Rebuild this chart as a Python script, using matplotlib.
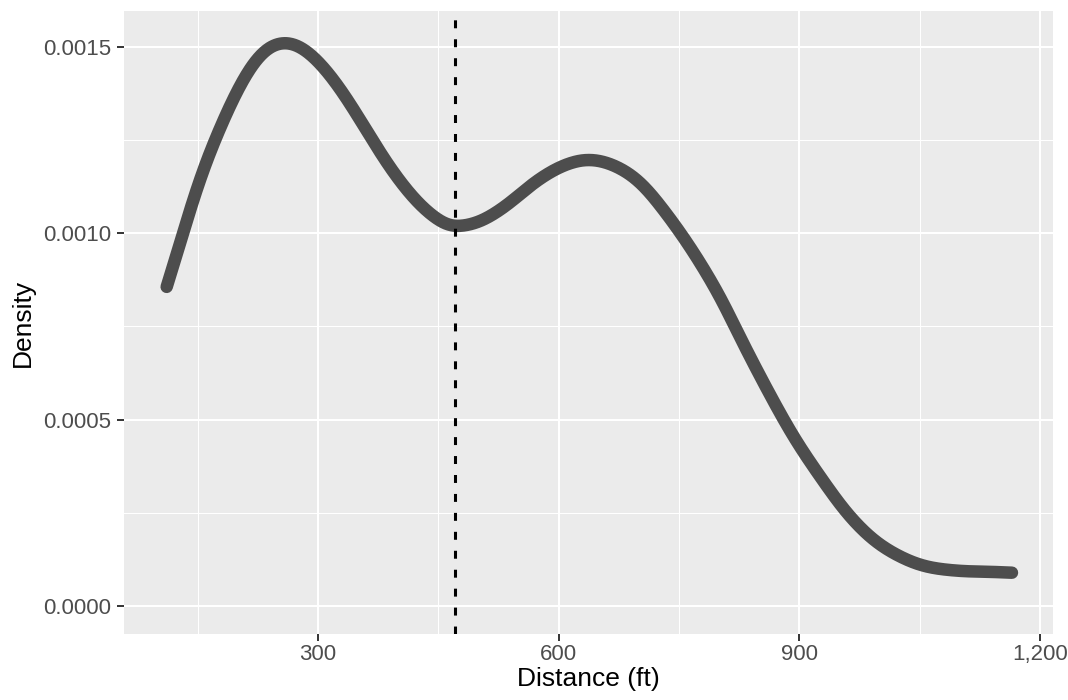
import numpy as np
import matplotlib.pyplot as plt
from matplotlib.ticker import FuncFormatter

plt.rcParams['font.family'] = ['Liberation Sans', 'DejaVu Sans']

# density curve
distance = [111.4, 128.0, 142.6, 157.1, 173.8, 194.5, 215.3, 236.1, 258.9,
            281.7, 306.7, 331.6, 356.5, 381.4, 406.4, 431.3, 456.2, 470.8,
            502.0, 535.3, 568.4, 601.7, 635.0, 668.2, 701.4, 734.7, 767.9,
            801.2, 826.1, 859.4, 892.6, 925.8, 959.1, 992.3, 1025.6, 1058.8,
            1100.4, 1133.6, 1164.8]
density = [0.000856, 0.000973, 0.001078, 0.001172, 0.001262, 0.001362,
           0.001444, 0.001496, 0.001513, 0.001496, 0.001446, 0.001375,
           0.001290, 0.001203, 0.001127, 0.001067, 0.001026, 0.001017,
           0.001031, 0.001075, 0.001134, 0.001178, 0.001198, 0.001183,
           0.001137, 0.001051, 0.000949, 0.000829, 0.000720, 0.000582,
           0.000454, 0.000347, 0.000249, 0.000177, 0.000132, 0.000105,
           0.0000939, 0.0000920, 0.0000893]
median_dist = 471

x_ticks = [300, 600, 900, 1200]
y_ticks = [0.0, 0.0005, 0.0010, 0.0015]


def catmull_rom(px, py, n=40):
    # smooth curve through the read points
    P = np.column_stack([np.asarray(px, float), np.asarray(py, float)])
    P = np.vstack([2 * P[0] - P[1], P, 2 * P[-1] - P[-2]])
    out = []
    t = np.linspace(0, 1, n, endpoint=False)[:, None]
    for i in range(1, len(P) - 2):
        p0, p1, p2, p3 = P[i - 1], P[i], P[i + 1], P[i + 2]
        out.append(0.5 * ((2 * p1) + (-p0 + p2) * t
                          + (2 * p0 - 5 * p1 + 4 * p2 - p3) * t ** 2
                          + (-p0 + 3 * p1 - 3 * p2 + p3) * t ** 3))
    out.append(P[-2][None, :])
    out = np.vstack(out)
    return out[:, 0], out[:, 1]


cx, cy = catmull_rom(distance, density)
xs = np.linspace(distance[0], distance[-1], 1200)
ys = np.interp(xs, cx, cy)
# gaussian smoothing (~10 ft) to take out reading jitter
sig = 12
w = 3 * sig
g = np.exp(-0.5 * (np.arange(-w, w + 1) / sig) ** 2)
g /= g.sum()
pad = np.concatenate([2 * ys[0] - ys[w:0:-1], ys, 2 * ys[-1] - ys[-2:-w - 2:-1]])
ys = np.convolve(pad, g, mode='valid')

fig = plt.figure(figsize=(10.68, 7), dpi=100)
ax = fig.add_axes([0.1161, 0.0943, 0.986 - 0.1161, 0.9843 - 0.0943])
ax.set_facecolor('#EBEBEB')
for s in ax.spines.values():
    s.set_visible(False)

ax.set_xlim(58.2, 1216)
ax.set_ylim(-0.0000751, 0.001596)
ax.set_xticks(x_ticks)
ax.set_yticks(y_ticks)
ax.set_xticks([150, 450, 750, 1050], minor=True)
ax.set_yticks([0.00025, 0.00075, 0.00125], minor=True)
ax.grid(which='major', color='white', linewidth=1.5)
ax.grid(which='minor', color='white', linewidth=0.75)
ax.set_axisbelow(True)
ax.tick_params(which='minor', length=0)
ax.tick_params(which='major', length=5, width=1.4, color='#333333',
               labelcolor='#4D4D4D', labelsize=16)
ax.tick_params(axis='y', pad=4)
ax.tick_params(axis='x', pad=2)
ax.xaxis.set_major_formatter(FuncFormatter(lambda v, p: f'{v:,.0f}'))
ax.yaxis.set_major_formatter(FuncFormatter(lambda v, p: f'{v:.4f}'))

ax.plot(xs, ys, color='#4D4D4D', linewidth=9, solid_capstyle='round')
ax.axvline(median_dist, color='black', linestyle=(0, (2.6, 3.6)), linewidth=2.2)

ax.set_xlabel('Distance (ft)', fontsize=19, labelpad=2)
ax.set_ylabel('Density', fontsize=19, labelpad=6)

fig.savefig('out.png', dpi=100)
